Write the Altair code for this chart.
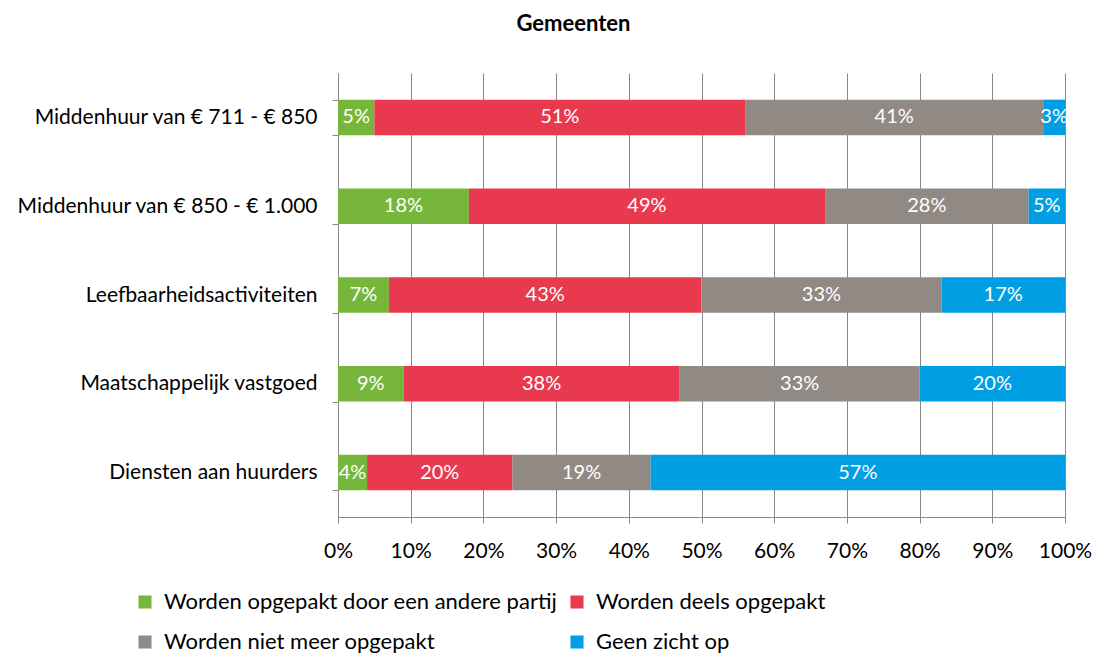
import altair as alt
import pandas as pd

categories = [
    "Middenhuur van € 711 - € 850",
    "Middenhuur van € 850 - € 1.000",
    "Leefbaarheidsactiviteiten",
    "Maatschappelijk vastgoed",
    "Diensten aan huurders",
]
series = [
    "Worden opgepakt door een andere partij",
    "Worden deels opgepakt",
    "Worden niet meer opgepakt",
    "Geen zicht op",
]
colors = ["#76B73B", "#E8394F", "#918983", "#009FE3"]
values = {
    "Worden opgepakt door een andere partij": [5, 18, 7, 9, 4],
    "Worden deels opgepakt": [51, 49, 43, 38, 20],
    "Worden niet meer opgepakt": [41, 28, 33, 33, 19],
    "Geen zicht op": [3, 5, 17, 20, 57],
}

rows = []
for si, s in enumerate(series):
    for ci, c in enumerate(categories):
        rows.append({"cat": c, "series": s, "order": si, "value": values[s][ci]})
df = pd.DataFrame(rows)

FONT = "Lato"

base = alt.Chart(df).transform_stack(
    stack="value", groupby=["cat"], as_=["v0", "v1"], sort=[alt.SortField("order")]
).transform_calculate(
    p0="datum.v0 / 100", p1="datum.v1 / 100", mid="(datum.v0 + datum.v1) / 200",
    lab="datum.value + '%'"
)

y = alt.Y(
    "cat:N", sort=categories, title=None,
    scale=alt.Scale(paddingInner=0.6, paddingOuter=0.3),
    axis=alt.Axis(
        tickBand="extent", labelFont=FONT, labelFontSize=21, labelColor="#000000",
        labelPadding=15, tickSize=6, tickColor="#888888", domainColor="#888888",
        labelLimit=400,
    ),
)

bars = base.mark_bar().encode(
    y=y,
    x=alt.X(
        "p0:Q", title=None, scale=alt.Scale(domain=[0, 1], nice=False),
        axis=alt.Axis(
            format="%", values=[i / 10 for i in range(11)], labelFont=FONT,
            labelFontSize=21, labelColor="#000000", labelPadding=17, tickSize=6,
            tickColor="#888888", domainColor="#888888", grid=True,
            gridColor="#888888", gridWidth=1, labelOverlap=False, labelFlush=False,
        ),
    ),
    x2="p1:Q",
    color=alt.Color(
        "series:N", scale=alt.Scale(domain=series, range=colors),
        legend=alt.Legend(
            title=None, orient="none", legendX=-204, legendY=518, columns=2,
            direction="horizontal",
            symbolType="square", symbolSize=170, symbolStrokeWidth=0,
            symbolOpacity=1, labelFont=FONT, labelFontSize=22, labelColor="#000000",
            labelLimit=600, rowPadding=18, columnPadding=8, labelOffset=8,
        ),
    ),
    order=alt.Order("order:Q"),
)

texts = base.mark_text(color="white", font=FONT, fontSize=20).encode(
    y=alt.Y("cat:N", sort=categories),
    x=alt.X("mid:Q"),
    text="lab:N",
)

chart = alt.layer(bars, texts).properties(
    width=727, height=444,
    autosize=alt.AutoSizeParams(type="none"),
    padding={"left": 330, "top": 65, "right": 27, "bottom": 150},
    title=alt.TitleParams(
        "Gemeenten", font=FONT, fontSize=22, fontWeight="bold", color="#000000",
        anchor="middle", dx=-128, offset=26,
    ),
).configure_view(stroke=None)

chart.save("out.html", embed_options={"renderer": "svg", "actions": False})
